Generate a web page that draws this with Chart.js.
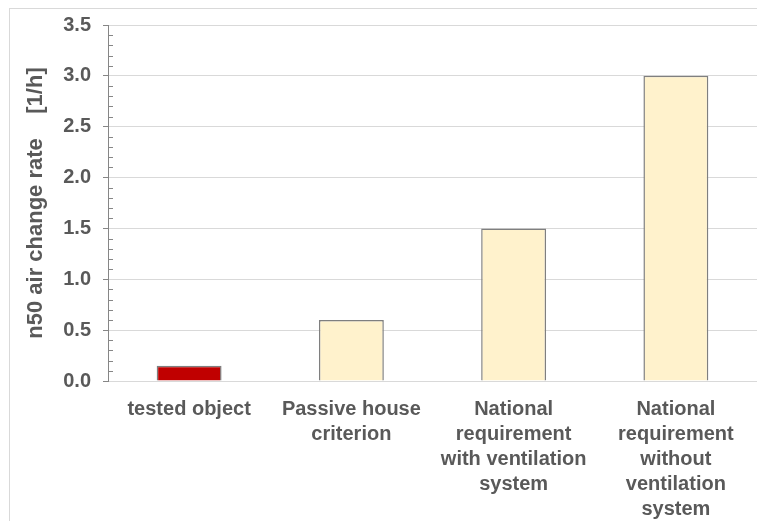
<!DOCTYPE html>
<html>
<head>
<meta charset="utf-8">
<script src="https://cdn.jsdelivr.net/npm/chart.js@4"></script>
<style>
  body { margin: 0; background: #fff; }
  #frame { position: absolute; left: 9px; top: 8px; width: 800px; height: 600px; border: 1px solid #d9d9d9; }
  #wrap { position: absolute; left: 0; top: 0; width: 757px; height: 521px; }
</style>
</head>
<body>
<div id="frame"></div>
<div id="wrap"><canvas id="mycanvas"></canvas></div>
<script>
var labels = [
	"tested object",
	["Passive house", "criterion"],
	["National", "requirement", "with ventilation", "system"],
	["National", "requirement", "without", "ventilation", "system"]
];
var n50 = [0.15, 0.6, 1.5, 3.0];
var barColors = ['#c00000', '#fff2cc', '#fff2cc', '#fff2cc'];
var yTitle = 'n50 air change rate    [1/h]';
var yMax = 3.5;
var yStep = 0.5;
var minorStep = 0.1;

// little inner ticks on the y axis
var minorTicks = {
	id: 'minorTicks',
	afterDraw: function(chart) {
		var y = chart.scales.y;
		var ctx = chart.ctx;
		ctx.save();
		ctx.strokeStyle = '#868686';
		ctx.lineWidth = 1;
		for (var v = minorStep; v < yMax; v += minorStep) {
			var r = Math.round(v * 10) / 10;
			if (Math.abs(r / yStep - Math.round(r / yStep)) < 1e-6) continue;
			var py = Math.round(y.getPixelForValue(r)) + 0.5;
			ctx.beginPath();
			ctx.moveTo(y.right, py);
			ctx.lineTo(y.right + 5, py);
			ctx.stroke();
		}
		ctx.restore();
	}
};

var ctx = document.getElementById('mycanvas');
var barGraph = new Chart(ctx, {
	type: 'bar',
	data: {
		labels: labels,
		datasets: [{
			data: n50,
			backgroundColor: barColors,
			borderColor: '#7f7f7f',
			borderWidth: 1.5,
			categoryPercentage: 1,
			barPercentage: 0.4
		}]
	},
	plugins: [minorTicks],
	options: {
		responsive: true,
		maintainAspectRatio: false,
		animation: false,
		layout: { padding: { top: 25, right: 0, bottom: 0, left: 0 } },
		plugins: { legend: { display: false }, tooltip: { enabled: false } },
		scales: {
			x: {
				grid: { display: false },
				border: { color: '#d9d9d9', width: 1 },
				ticks: {
					color: '#595959',
					font: { family: 'Liberation Sans', size: 20, weight: 'bold', lineHeight: 1.25 },
					padding: 8,
					maxRotation: 0,
					autoSkip: false
				},
				afterFit: function(scale) { scale.height = 140; }
			},
			y: {
				min: 0,
				max: yMax,
				ticks: {
					stepSize: yStep,
					color: '#595959',
					font: { family: 'Liberation Sans', size: 20, weight: 'bold' },
					padding: 12,
					callback: function(v) { return v.toFixed(1); }
				},
				grid: { color: '#d9d9d9', tickColor: '#868686', tickLength: 5 },
				border: { color: '#868686', width: 1 },
				title: {
					display: true,
					text: yTitle,
					color: '#595959',
					font: { family: 'Liberation Sans', size: 22, weight: 'bold', lineHeight: 1.2 },
					padding: { top: 23, bottom: 0 }
				},
				afterFit: function(scale) { scale.width = 108; }
			}
		}
	}
});
</script>
</body>
</html>
